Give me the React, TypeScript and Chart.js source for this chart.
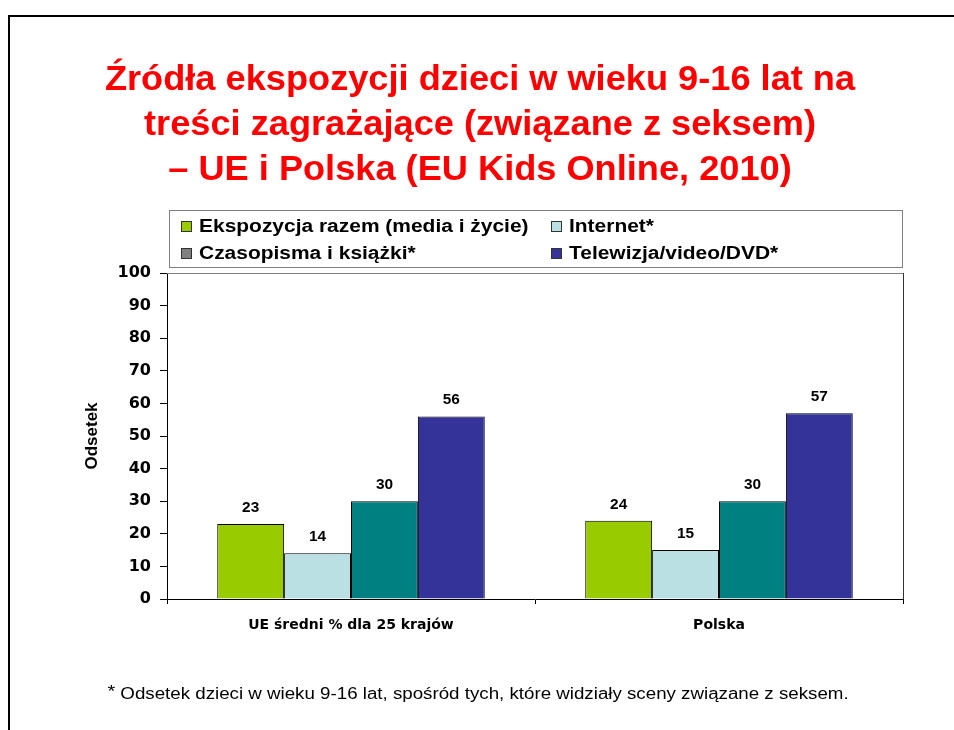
import { useEffect, useRef } from "react";
import { Chart, registerables } from "chart.js";

Chart.register(...registerables);

const categories = ["UE średni % dla 25 krajów", "Polska"];
const seriesNames = [
  "Ekspozycja razem (media i życie)",
  "Internet*",
  "Czasopisma i książki*",
  "Telewizja/video/DVD*",
];
const totalExposure = [23, 24];
const internet = [14, 15];
const magazines = [30, 30];
const television = [56, 57];
const yMin = 0;
const yMax = 100;
const yStep = 10;
const yAxisTitle = "Odsetek";
const titleLines = [
  "Źródła ekspozycji dzieci w wieku 9-16 lat na",
  "treści zagrażające (związane z seksem)",
  "– UE i Polska (EU Kids Online, 2010)",
];
const footnoteMark = "*";
const footnoteText = " Odsetek dzieci w wieku 9-16 lat, spośród tych, które widziały sceny związane z seksem.";

const barColors = ["#99CC00", "#BBE0E3", "#008080", "#333399"];
const legendColors = ["#99CC00", "#BBE0E3", "#808080", "#333399"];
const FONT = "'Liberation Sans', Arial, Helvetica, sans-serif";
const WIDE = "'DejaVu Sans', 'Liberation Sans', sans-serif";

function stretchText(ctx: any, text: string, x: number, y: number, sx: number, align: string) {
  ctx.save();
  ctx.translate(x, y);
  ctx.scale(sx, 1);
  ctx.textAlign = align;
  ctx.fillText(text, 0, 0);
  ctx.restore();
}

const decorPlugin = {
  id: "decor",
  beforeDraw(chart: any) {
    const ctx = chart.ctx;
    ctx.save();
    ctx.fillStyle = "#ffffff";
    ctx.fillRect(0, 0, chart.width, chart.height);
    // slide frame
    ctx.fillStyle = "#000000";
    ctx.fillRect(8, 15, 2, chart.height);
    ctx.fillRect(8, 15, chart.width, 2);
    // title
    ctx.fillStyle = "#FF0000";
    ctx.font = `bold 35px ${FONT}`;
    ctx.textBaseline = "alphabetic";
    titleLines.forEach((t, i) => stretchText(ctx, t, 480, 90 + i * 45, 1.034, "center"));
    // legend
    ctx.strokeStyle = "#808080";
    ctx.lineWidth = 1;
    ctx.strokeRect(169.5, 210.5, 733, 57);
    const cols = [181, 551];
    const rows = [232, 259];
    ctx.font = `bold 18px ${FONT}`;
    seriesNames.forEach((name, i) => {
      const x = cols[i % 2];
      const y = rows[Math.floor(i / 2)];
      ctx.fillStyle = legendColors[i];
      ctx.fillRect(x, y - 11, 11, 11);
      ctx.strokeStyle = "#333333";
      ctx.strokeRect(x + 0.5, y - 10.5, 10, 10);
      ctx.fillStyle = "#000000";
      stretchText(ctx, name, x + 18, y, 1.164, "left");
    });
    // footnote
    const sx = 1.17;
    ctx.font = `17px ${FONT}`;
    const w1 = ctx.measureText(footnoteMark).width * sx;
    ctx.font = `16px ${FONT}`;
    const w2 = ctx.measureText(footnoteText).width * sx;
    const start = 478 - (w1 + w2) / 2;
    ctx.font = `17px ${FONT}`;
    stretchText(ctx, footnoteMark, start, 697, sx, "left");
    ctx.font = `16px ${FONT}`;
    stretchText(ctx, footnoteText, start + w1, 699, sx, "left");
    ctx.restore();
  },
  afterDatasetsDraw(chart: any) {
    const ctx = chart.ctx;
    const area = chart.chartArea;
    ctx.save();
    // plot area top and right border
    ctx.strokeStyle = "#808080";
    ctx.lineWidth = 1;
    ctx.beginPath();
    ctx.moveTo(area.left, area.top + 0.5);
    ctx.lineTo(area.right, area.top + 0.5);
    ctx.stroke();
    ctx.strokeStyle = "#333333";
    ctx.beginPath();
    ctx.moveTo(area.right + 0.5, area.top);
    ctx.lineTo(area.right + 0.5, area.bottom);
    ctx.stroke();
    // data labels
    ctx.fillStyle = "#000000";
    ctx.font = `bold 14px ${FONT}`;
    ctx.textBaseline = "bottom";
    chart.data.datasets.forEach((ds: any, i: number) => {
      const meta = chart.getDatasetMeta(i);
      meta.data.forEach((bar: any, j: number) => {
        stretchText(ctx, String(ds.data[j]), bar.x, bar.y - 9, 1.1, "center");
      });
    });
    ctx.restore();
  },
};

export default function App() {
  const ref = useRef<HTMLCanvasElement | null>(null);
  useEffect(() => {
    if (!ref.current) return;
    const seriesData = [totalExposure, internet, magazines, television];
    const chart = new Chart(ref.current, {
      type: "bar",
      data: {
        labels: categories,
        datasets: seriesNames.map((name, i) => ({
          label: name,
          data: seriesData[i],
          backgroundColor: barColors[i],
          borderColor: "#000000",
          borderWidth: 1,
          barPercentage: 1,
          categoryPercentage: 0.727,
        })),
      },
      options: {
        animation: false,
        responsive: false,
        devicePixelRatio: 1,
        layout: { padding: { left: 60, right: 51, top: 273, bottom: 91 } },
        plugins: {
          legend: { display: false },
          title: { display: false },
          tooltip: { enabled: false },
        },
        scales: {
          x: {
            grid: {
              offset: true,
              drawOnChartArea: false,
              drawTicks: true,
              tickLength: 5,
              color: "#000000",
            },
            border: { display: true, color: "#000000", width: 1 },
            ticks: {
              color: "#000000",
              font: { family: WIDE, size: 14, weight: "bold" },
              padding: 13,
            },
            afterFit: (s: any) => {
              s.height = 40;
            },
          },
          y: {
            min: yMin,
            max: yMax,
            ticks: {
              stepSize: yStep,
              color: "#000000",
              font: { family: WIDE, size: 16, weight: "bold" },
              padding: 9,
            },
            grid: {
              drawOnChartArea: false,
              drawTicks: true,
              tickLength: 7,
              color: "#000000",
            },
            border: { display: true, color: "#000000", width: 1 },
            title: {
              display: true,
              text: yAxisTitle,
              color: "#000000",
              font: { family: FONT, size: 17, weight: "bold" },
              padding: { top: 22, bottom: 0 },
            },
            afterFit: (s: any) => {
              s.width = 107;
            },
          },
        },
      },
      plugins: [decorPlugin],
    });
    return () => chart.destroy();
  }, []);
  return (
    <canvas
      ref={ref}
      width={954}
      height={730}
      style={{ position: "absolute", left: 0, top: 0, width: 954, height: 730, display: "block" }}
    />
  );
}
